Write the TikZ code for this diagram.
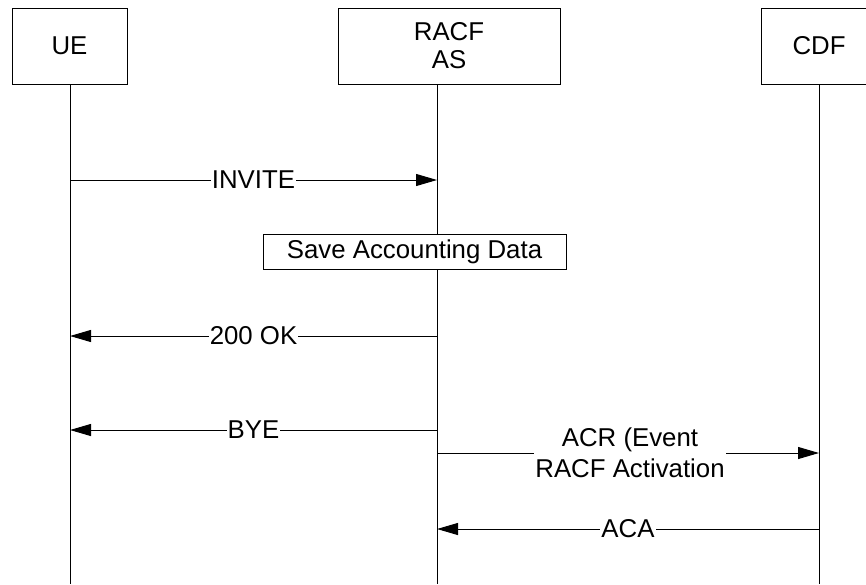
\documentclass[tikz,border=0pt]{standalone}
\usepackage{fontspec}
\setmainfont{Liberation Sans}
\usetikzlibrary{arrows.meta}
\tikzset{
  actor/.style={draw, line width=1pt, minimum height=76pt, align=center, inner sep=0pt},
  procbox/.style={draw, line width=1pt, fill=white, minimum height=35pt, inner sep=0pt},
  lifeline/.style={line width=1pt},
  msg/.style={line width=1pt, -{Triangle[length=21pt,width=12pt]}},
  lbl/.style={fill=white, inner sep=1pt, align=center}
}
\begin{document}
\begin{tikzpicture}[x=1pt,y=1pt,font=\fontsize{25.8}{29.6}\selectfont]
\useasboundingbox (0,0) rectangle (866,-584);
\clip (0,0) rectangle (866,-584);
% lifeline x positions
\coordinate (uel) at (70,0);
\coordinate (asl) at (437,0);
\coordinate (cdl) at (819,0);
\coordinate (bot) at (0,-584);
% actors
\node[actor, minimum width=115pt] (ue) at (69.5,-46) {UE};
\node[actor, minimum width=222pt] (as) at (449,-46) {RACF\\[-1.6pt]AS};
\node[actor, minimum width=116pt] (cdf) at (819,-46) {CDF};
% lifelines
\draw[lifeline] (uel |- ue.south) -- (uel |- bot);
\draw[lifeline] (asl |- as.south) -- (asl |- bot);
\draw[lifeline] (cdl |- cdf.south) -- (cdl |- bot);
% messages
\coordinate (m1) at (0,-180);
\coordinate (m2) at (0,-336);
\coordinate (m3) at (0,-430);
\coordinate (m4) at (0,-453);
\coordinate (m5) at (0,-529);
\draw[msg] (uel |- m1) -- node[lbl]{INVITE} (asl |- m1);
\node[procbox, minimum width=303pt] (save) at (414.5,-251.5) {Save Accounting Data};
\draw[msg] (asl |- m2) -- node[lbl]{200 OK} (uel |- m2);
\draw[msg] (asl |- m3) -- node[lbl]{BYE} (uel |- m3);
\draw[msg] (asl |- m4) -- node[lbl, xshift=2pt]{ACR (Event\\[1pt]RACF Activation} (cdl |- m4);
\draw[msg] (cdl |- m5) -- node[lbl]{ACA} (asl |- m5);
\end{tikzpicture}
\end{document}
